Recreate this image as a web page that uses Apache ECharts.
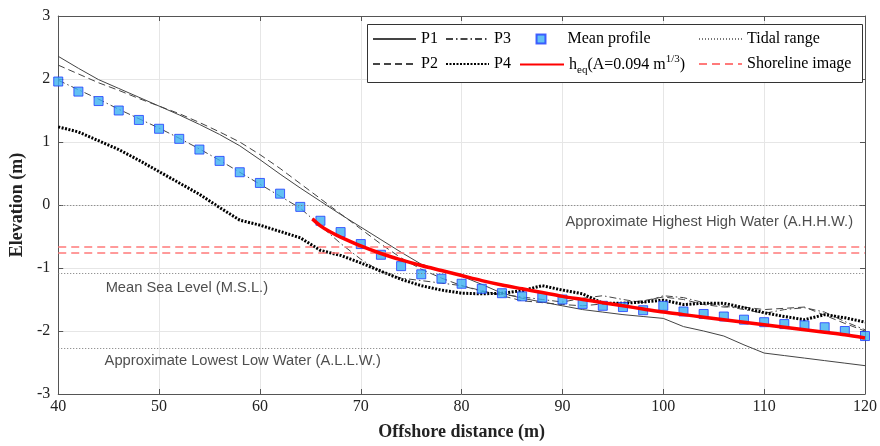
<!DOCTYPE html>
<html>
<head>
<meta charset="utf-8">
<script src="https://cdn.jsdelivr.net/npm/echarts@6/dist/echarts.min.js"></script>
<style>
  html, body { margin: 0; padding: 0; background: #fff; }
  #chart { width: 880px; height: 446px; }
</style>
</head>
<body>
<div id="chart"></div>
<script>
// offshore distance of profile points (m)
const xDist = [40, 42, 44, 46, 48, 50, 52, 54, 56, 58, 60, 62, 64, 66, 68, 70, 72, 74, 76, 78, 80,
  82, 84, 86, 88, 90, 92, 94, 96, 98, 100, 102, 104, 106, 108, 110, 112, 114, 116, 118, 120]

const p1 = [2.36, 2.17, 1.99, 1.85, 1.71, 1.57, 1.43, 1.28, 1.12, 0.94, 0.72, 0.49, 0.27, 0.06, -0.15, -0.35, -0.55, -0.75, -0.94, -1.04, -1.13,
  -1.26, -1.40, -1.48, -1.54, -1.60, -1.66, -1.70, -1.74, -1.77, -1.80, -1.93, -2.00, -2.08, -2.22, -2.35, -2.39, -2.43, -2.47, -2.51, -2.55]
const p2 = [2.22, 2.08, 1.94, 1.82, 1.69, 1.57, 1.45, 1.31, 1.16, 1.00, 0.80, 0.58, 0.34, 0.10, -0.14, -0.38, -0.62, -0.84, -1.02, -1.16, -1.28,
  -1.36, -1.44, -1.52, -1.55, -1.58, -1.60, -1.57, -1.55, -1.52, -1.46, -1.50, -1.58, -1.62, -1.62, -1.66, -1.64, -1.62, -1.75, -1.88, -2.00]
const p3 = [1.98, 1.83, 1.68, 1.52, 1.37, 1.22, 1.06, 0.89, 0.71, 0.52, 0.33, 0.14, -0.05, -0.33, -0.61, -0.86, -1.06, -1.16, -1.20, -1.24, -1.28,
  -1.37, -1.42, -1.46, -1.50, -1.54, -1.48, -1.44, -1.50, -1.55, -1.44, -1.47, -1.55, -1.60, -1.66, -1.72, -1.66, -1.63, -1.70, -1.85, -1.98]
const p4 = [1.24, 1.16, 1.02, 0.88, 0.71, 0.53, 0.35, 0.17, -0.04, -0.24, -0.32, -0.42, -0.52, -0.72, -0.80, -0.92, -1.05, -1.18, -1.28, -1.35, -1.40,
  -1.41, -1.40, -1.36, -1.28, -1.35, -1.41, -1.56, -1.56, -1.54, -1.51, -1.58, -1.56, -1.56, -1.63, -1.71, -1.77, -1.82, -1.74, -1.79, -1.86]
const meanProfile = [1.96, 1.80, 1.65, 1.50, 1.35, 1.21, 1.05, 0.88, 0.70, 0.52, 0.35, 0.18, -0.03, -0.25, -0.43, -0.62, -0.79, -0.97, -1.10, -1.17, -1.25,
  -1.33, -1.40, -1.45, -1.47, -1.50, -1.57, -1.60, -1.62, -1.67, -1.60, -1.69, -1.73, -1.77, -1.82, -1.86, -1.89, -1.91, -1.94, -2.00, -2.08]

// equilibrium profile h_eq
const heqX = [65.2, 66, 67, 68, 70, 72, 74, 76, 78, 80, 82, 84, 86, 88, 90, 92, 94, 96, 98, 100,
  102, 104, 106, 108, 110, 112, 114, 116, 118, 120]
const heqY = [-0.22, -0.33, -0.43, -0.51, -0.65, -0.77, -0.87, -0.96, -1.04, -1.12, -1.20, -1.27, -1.33, -1.39, -1.45, -1.50, -1.55, -1.60, -1.65, -1.70,
  -1.74, -1.78, -1.82, -1.86, -1.90, -1.94, -1.98, -2.02, -2.06, -2.11]

const tidalLevels = [0, -1.08, -2.28]
const shorelineLevels = [-0.66, -0.76]
const tidalLabels = [
  { name: 'Approximate Highest High Water (A.H.H.W.)', x: 90.3, y: -0.27 },
  { name: 'Mean Sea Level (M.S.L.)', x: 44.7, y: -1.31 },
  { name: 'Approximate Lowest Low Water (A.L.L.W.)', x: 44.6, y: -2.48 }
]

const serif = '"Liberation Serif", "Times New Roman", serif'
const pair = (xs, ys) => xs.map((x, i) => [x, ys[i]])

const chart = echarts.init(document.getElementById('chart'))

// one legend per entry so the two rows line up in columns
const legendItem = (name, left, top, extra) => Object.assign({
  data: [name],
  left: left,
  top: top,
  padding: 0,
  itemWidth: 43,
  itemHeight: 10,
  itemGap: 0,
  selectedMode: false,
  itemStyle: { opacity: 0 },
  textStyle: { fontFamily: serif, fontSize: 16, color: '#000', lineHeight: 18 }
}, extra || {})

const axisCommon = {
  type: 'value',
  axisLine: { show: true, onZero: false, lineStyle: { color: '#555', width: 1 } },
  axisTick: { show: true, inside: true, length: 5, lineStyle: { color: '#555' } },
  axisLabel: { color: '#222', fontFamily: serif, fontSize: 16 }
}

const option = {
  backgroundColor: '#fff',
  animation: false,
  grid: { left: 53, right: 13, top: 16, bottom: 51, containLabel: false },
  xAxis: [
    Object.assign({}, axisCommon, {
      min: 40, max: 120, interval: 10,
      name: 'Offshore distance (m)',
      nameLocation: 'middle',
      nameGap: 29,
      nameTextStyle: { fontFamily: serif, fontSize: 18, fontWeight: 'bold', color: '#222' },
      axisLabel: Object.assign({}, axisCommon.axisLabel, { margin: 5 }),
      splitLine: { show: true, lineStyle: { color: '#e6e6e6' } }
    }),
    Object.assign({}, axisCommon, {
      min: 40, max: 120, interval: 10, position: 'top',
      axisLabel: { show: false }, splitLine: { show: false }
    })
  ],
  yAxis: [
    Object.assign({}, axisCommon, {
      min: -3, max: 3, interval: 1,
      name: 'Elevation (m)',
      nameLocation: 'middle',
      nameGap: 28,
      nameTextStyle: { fontFamily: serif, fontSize: 18, fontWeight: 'bold', color: '#222' },
      axisLabel: Object.assign({}, axisCommon.axisLabel, { margin: 8 }),
      splitLine: { show: true, lineStyle: { color: '#e6e6e6' } }
    }),
    Object.assign({}, axisCommon, {
      min: -3, max: 3, interval: 1, position: 'right',
      axisLabel: { show: false }, splitLine: { show: false }
    })
  ],
  graphic: [{
    type: 'rect',
    left: 367, top: 24, z: 3,
    shape: { width: 495, height: 58 },
    style: { fill: '#fff', stroke: '#333', lineWidth: 1 }
  }],
  legend: [
    legendItem('P1', 372, 30),
    legendItem('P3', 445, 30),
    legendItem('Mean profile', 535.5, 30, {
      itemWidth: 9, itemHeight: 9, itemStyle: {},
      textStyle: { fontFamily: serif, fontSize: 16, color: '#000', lineHeight: 18, padding: [0, 0, 0, 17] }
    }),
    legendItem('Tidal range', 698, 30),
    legendItem('P2', 372, 55),
    legendItem('P4', 445, 55),
    legendItem('heq', 519, 53, {
      itemWidth: 44,
      formatter: () => '{n|h}{sub|eq}{n|(A=0.094 m}{sup|1/3}{n|)}',
      textStyle: {
        fontFamily: serif, fontSize: 16, color: '#000',
        rich: {
          n: { fontFamily: serif, fontSize: 16, color: '#000', lineHeight: 22 },
          sub: { fontFamily: serif, fontSize: 11, color: '#000', lineHeight: 22, padding: [12, 0, 0, 0] },
          sup: { fontFamily: serif, fontSize: 11, color: '#000', lineHeight: 22, padding: [0, 0, 10, 0] }
        }
      }
    }),
    legendItem('Shoreline image', 698, 55)
  ],
  series: [
    {
      name: 'P1', type: 'line', data: pair(xDist, p1), showSymbol: false, symbol: 'none',
      lineStyle: { color: '#444', width: 1 }, z: 3
    },
    {
      name: 'P2', type: 'line', data: pair(xDist, p2), showSymbol: false, symbol: 'none',
      lineStyle: { color: '#444', width: 1, type: [7, 4] }, z: 3
    },
    {
      name: 'P3', type: 'line', data: pair(xDist, p3), showSymbol: false, symbol: 'none',
      lineStyle: { color: '#444', width: 1, type: [7, 3, 1.5, 3] }, z: 3
    },
    {
      name: 'P4', type: 'line', data: pair(xDist, p4), showSymbol: false, symbol: 'none',
      lineStyle: { color: '#000', width: 3, type: [2, 1.5] }, z: 3
    },
    {
      name: 'Tidal range', type: 'line', data: [], symbol: 'none',
      lineStyle: { color: '#777', width: 1, type: [1, 2] },
      markLine: {
        silent: true, symbol: 'none', label: { show: false },
        lineStyle: { color: '#777', width: 1, type: [1, 2] },
        data: tidalLevels.map(v => ({ yAxis: v }))
      }
    },
    {
      name: 'Shoreline image', type: 'line', data: [], symbol: 'none',
      lineStyle: { color: '#ff7a7a', width: 1.5, type: [8, 5] },
      markLine: {
        silent: true, symbol: 'none', label: { show: false },
        lineStyle: { color: '#ff7a7a', width: 1.5, type: [8, 5] },
        data: shorelineLevels.map(v => ({ yAxis: v }))
      }
    },
    {
      name: 'Mean profile', type: 'scatter', data: pair(xDist, meanProfile),
      symbol: 'rect', symbolSize: 9,
      itemStyle: { color: '#3cb0f0', borderColor: '#1f3cff', borderWidth: 1 }, z: 4
    },
    {
      name: 'heq', type: 'line', data: pair(heqX, heqY), showSymbol: false, symbol: 'none',
      smooth: 0.3,
      lineStyle: { color: '#ff0000', width: 3.5 }, z: 5
    },
    {
      name: 'labels', type: 'scatter', symbolSize: 0, silent: true,
      data: tidalLabels.map(d => ({ name: d.name, value: [d.x, d.y] })),
      label: {
        show: true, position: [0, 0], align: 'left', verticalAlign: 'middle',
        formatter: p => p.name,
        fontFamily: '"Liberation Sans", Arial, sans-serif', fontSize: 14.7, color: '#222'
      }
    }
  ]
}

chart.setOption(option)
</script>
</body>
</html>
